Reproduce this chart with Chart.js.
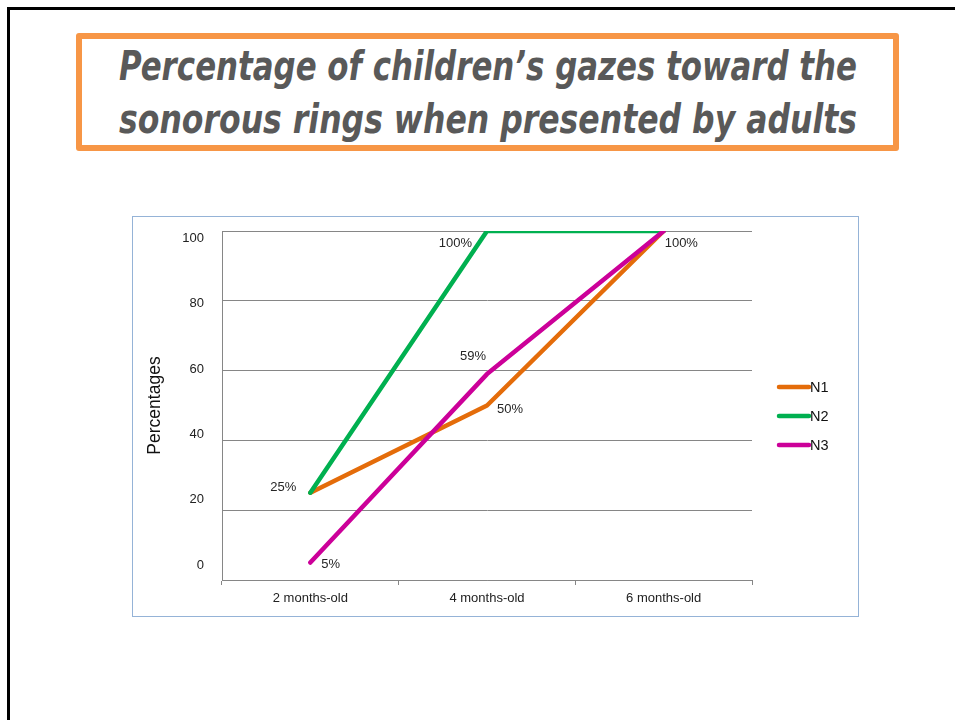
<!DOCTYPE html>
<html>
<head>
<meta charset="utf-8">
<title>Percentage of children's gazes</title>
<script src="https://cdn.jsdelivr.net/npm/chart.js@4.4.1/dist/chart.umd.min.js"></script>
<style>
  html, body { margin: 0; padding: 0; background: #fff; }
  body { width: 955px; height: 720px; position: relative; overflow: hidden;
         font-family: "Liberation Sans", Arial, sans-serif; }
  #frame { position: absolute; left: 7px; top: 7px; width: 980px; height: 740px;
           border-top: 3px solid #000; border-left: 3px solid #000; }
  #titleBox { position: absolute; left: 76px; top: 33px; width: 823px; height: 118px;
              box-sizing: border-box; border: 6px solid #f79646; border-radius: 3px; background: #fff; }
  .tline { position: absolute; left: 0; width: 100%; height: 40px; white-space: nowrap;
           font-family: "DejaVu Sans Condensed", "DejaVu Sans", sans-serif; font-stretch: condensed;
           font-weight: bold; font-style: italic; font-size: 40px; line-height: 40px; color: #595959; }
  .tline span { position: absolute; left: 50%; top: 0; display: inline-block; transform-origin: 50% 50%; }
  #l1 { top: 7px; }
  #l2 { top: 60px; }
  #chartBox { position: absolute; left: 132px; top: 216px; width: 727px; height: 401px;
              box-sizing: border-box; border: 1px solid #95b3d7; }
  #chart { position: absolute; left: 133px; top: 217px; }
</style>
</head>
<body>
<div id="frame"></div>
<div id="titleBox">
  <div class="tline" id="l1"><span>Percentage of children’s gazes toward the</span></div>
  <div class="tline" id="l2"><span>sonorous rings when presented by adults</span></div>
</div>
<div id="chartBox"></div>
<canvas id="chart" width="724" height="399"></canvas>
<script>
// ---- data ----
const categories = ['2 months-old', '4 months-old', '6 months-old'];
const seriesNames = ['N1', 'N2', 'N3'];
const n1Values = [25, 50, 100];
const n2Values = [25, 100, 100];
const n3Values = [5, 59, 100];
const yTickValues = [0, 20, 40, 60, 80, 100];
const seriesColors = ['#e46c0a', '#00b050', '#cc0099'];

// value labels shown next to selected points (series index, point index, text offset)
const labelPlacement = [
  { series: 0, index: 0, align: 'right', dx: -14, dy: -5 },
  { series: 2, index: 0, align: 'left',  dx: 11,  dy: 2 },
  { series: 1, index: 1, align: 'right', dx: -15, dy: 12 },
  { series: 2, index: 1, align: 'right', dx: -1,  dy: -18 },
  { series: 0, index: 1, align: 'left',  dx: 10,  dy: 4 },
  { series: 0, index: 2, align: 'left',  dx: 1,   dy: 12 }
];

// range of the axis that carries the tick numbers
const tickLabelAxisMin = -4.5;
const tickLabelAxisMax = 102.2;

// fit the title lines to the box width, centred
const titleWidth = 738;
document.querySelectorAll('.tline span').forEach(s => {
  const w = s.getBoundingClientRect().width;
  s.style.transform = 'translateX(-50%) scaleX(' + (titleWidth / w) + ')';
});

Chart.defaults.font.family = '"Liberation Sans", Arial, sans-serif';

const valueLabels = {
  id: 'valueLabels',
  afterDatasetsDraw(chart) {
    const ctx = chart.ctx;
    ctx.save();
    ctx.font = '13px "Liberation Sans", Arial, sans-serif';
    ctx.fillStyle = '#262626';
    ctx.textBaseline = 'middle';
    labelPlacement.forEach(p => {
      const pt = chart.getDatasetMeta(p.series).data[p.index];
      const v = chart.data.datasets[p.series].data[p.index];
      ctx.textAlign = p.align;
      ctx.fillText(v + '%', pt.x + p.dx, pt.y + p.dy);
    });
    ctx.restore();
  }
};

const lineLegend = {
  id: 'lineLegend',
  afterDraw(chart) {
    const ctx = chart.ctx;
    const area = chart.chartArea;
    const x0 = area.right + 27;
    const y0 = area.top + 156;
    const gap = 29;
    ctx.save();
    ctx.font = '14.5px "Liberation Sans", Arial, sans-serif';
    ctx.textBaseline = 'middle';
    ctx.textAlign = 'left';
    chart.data.datasets.forEach((ds, i) => {
      const y = y0 + i * gap;
      ctx.strokeStyle = ds.borderColor;
      ctx.lineWidth = ds.borderWidth;
      ctx.lineCap = 'round';
      ctx.beginPath();
      ctx.moveTo(x0, y);
      ctx.lineTo(x0 + 30, y);
      ctx.stroke();
      ctx.fillStyle = '#111';
      ctx.fillText(ds.label, x0 + 31, y + 1);
    });
    ctx.restore();
  }
};

const seriesValues = [n1Values, n2Values, n3Values];
const datasets = seriesNames.map((name, i) => ({
  label: name,
  data: seriesValues[i],
  borderColor: seriesColors[i],
  backgroundColor: seriesColors[i],
  borderWidth: 4.5,
  borderCapStyle: 'round',
  borderJoinStyle: 'round',
  pointRadius: 0,
  pointHoverRadius: 0,
  tension: 0,
  fill: false,
  yAxisID: 'y',
  order: seriesNames.length - i
}));

new Chart(document.getElementById('chart'), {
  type: 'line',
  data: { labels: categories, datasets: datasets },
  plugins: [valueLabels, lineLegend],
  options: {
    responsive: false,
    devicePixelRatio: 1,
    animation: false,
    layout: { padding: { top: 14, right: 105, bottom: 0, left: 0 } },
    plugins: {
      legend: { display: false },
      tooltip: { enabled: false },
      title: { display: false }
    },
    scales: {
      y: {
        axis: 'y',
        position: 'left',
        weight: 0,
        min: 0,
        max: 100,
        afterFit: s => { s.width = 0; s.paddingTop = 0; s.paddingBottom = 0; },
        ticks: { display: false, stepSize: 20 },
        grid: { color: '#868686', lineWidth: 1, drawTicks: false },
        border: { display: true, color: '#868686', width: 1 }
      },
      yl: {
        axis: 'y',
        position: 'left',
        weight: 1,
        min: tickLabelAxisMin,
        max: tickLabelAxisMax,
        afterFit: s => { s.width = 89; s.paddingTop = 0; s.paddingBottom = 0; },
        afterBuildTicks: s => { s.ticks = yTickValues.map(v => ({ value: v })); },
        grid: { display: false, drawTicks: false },
        border: { display: false },
        ticks: { padding: 18, color: '#222', font: { size: 13 } },
        title: {
          display: true,
          text: 'Percentages',
          color: '#111',
          font: { size: 17.5 },
          padding: { top: 12, bottom: 0 }
        }
      },
      x: {
        type: 'category',
        offset: true,
        afterFit: s => { s.height = 36; s.paddingLeft = 0; s.paddingRight = 0; },
        grid: { offset: true, drawOnChartArea: false, drawTicks: true, tickLength: 5, color: '#868686' },
        border: { display: true, color: '#868686', width: 1 },
        ticks: { padding: 6, color: '#222', font: { size: 13 }, maxRotation: 0, autoSkip: false }
      }
    }
  }
});
</script>
</body>
</html>
